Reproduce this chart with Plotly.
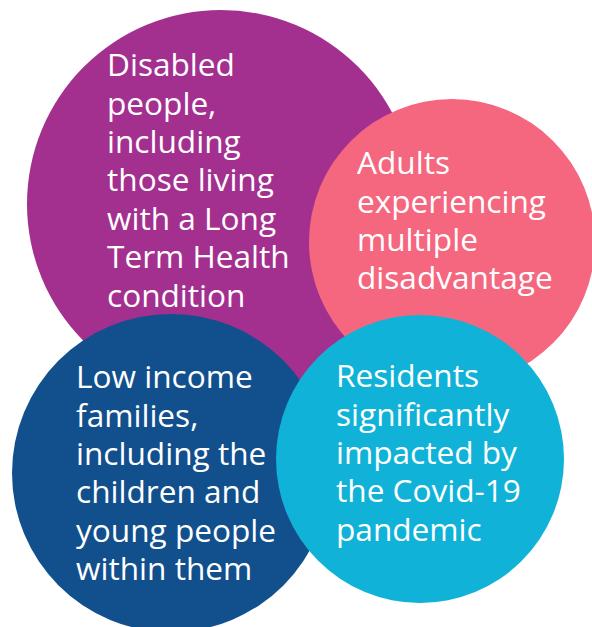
import plotly.graph_objects as go

# Groups (categories) and their circle geometry (pixel units of the chart)
groups = ["Disabled", "Adults", "Low income", "Residents"]
center_x = [221, 452, 171, 420]
center_y = [204, 242, 473, 459]
radius = [194, 143, 159, 144]
colors = ["#A3308F", "#F5677F", "#124F8D", "#10B3D7"]

# Label lines for each circle
label_lines = [
    ["Disabled", "people,", "including", "those living", "with a Long", "Term Health", "condition"],
    ["Adults", "experiencing", "multiple", "disadvantage"],
    ["Low income", "families,", "including the", "children and", "young people", "within them"],
    ["Residents", "significantly", "impacted by", "the Covid-19", "pandemic"],
]
text_left = [105.5, 355.5, 74.5, 334.5]
first_baseline = [76, 174, 388, 387]
line_step = 38.4
font_size = 31.6

W, H = 592, 627

fig = go.Figure()
# invisible trace to set up axes
fig.add_trace(go.Scatter(x=[0, W], y=[0, H], mode="markers",
                         marker=dict(opacity=0), hoverinfo="skip", showlegend=False))

shapes = []
for cx, cy, r, c in zip(center_x, center_y, radius, colors):
    shapes.append(dict(type="circle", xref="x", yref="y",
                       x0=cx - r, x1=cx + r, y0=cy - r, y1=cy + r,
                       fillcolor=c, line=dict(width=0), layer="above"))

annotations = []
for lines, tx, b0 in zip(label_lines, text_left, first_baseline):
    for i, ln in enumerate(lines):
        base = b0 + i * line_step
        annotations.append(dict(x=tx, y=base - 0.388 * font_size, xref="x", yref="y",
                                text=ln, showarrow=False, xanchor="left", yanchor="middle",
                                borderpad=0,
                                font=dict(family="Open Sans", size=font_size, color="white")))

fig.update_layout(
    width=W, height=H,
    margin=dict(l=0, r=0, t=0, b=0),
    paper_bgcolor="white", plot_bgcolor="white",
    xaxis=dict(range=[0, W], visible=False, fixedrange=True),
    yaxis=dict(range=[H, 0], visible=False, fixedrange=True),
    shapes=shapes, annotations=annotations,
    showlegend=False,
)

fig.write_html("out.html", config={"displayModeBar": False},
               post_script="document.body.style.margin='0';")
